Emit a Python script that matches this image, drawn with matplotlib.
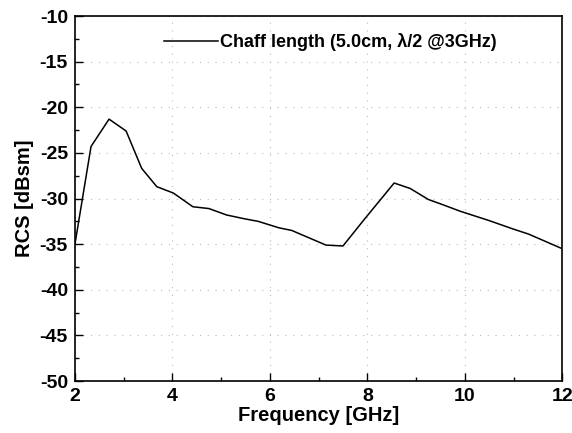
import matplotlib
matplotlib.use("Agg")
import matplotlib.pyplot as plt
from matplotlib.ticker import MultipleLocator

plt.rcParams['font.family'] = ['Liberation Sans', 'DejaVu Sans']
plt.rcParams['axes.unicode_minus'] = False

freq = [2.0, 2.33, 2.70, 3.05, 3.37, 3.68, 4.02, 4.42, 4.75, 5.11, 5.46, 5.76,
        6.18, 6.45, 7.15, 7.50, 7.92, 8.55, 8.88, 9.25, 9.56, 9.91, 10.49,
        10.97, 11.31, 12.0]
rcs = [-35.0, -24.3, -21.3, -22.6, -26.7, -28.7, -29.4, -30.9, -31.1, -31.8, -32.2, -32.5,
       -33.2, -33.5, -35.1, -35.2, -32.4, -28.3, -28.9, -30.1, -30.7, -31.4, -32.4,
       -33.3, -33.9, -35.5]
label = 'Chaff length (5.0cm, \u03bb/2 @3GHz)'

fig = plt.figure(figsize=(5.72, 4.33), dpi=100)
ax = fig.add_axes([0.131, 0.120, 0.852, 0.843])

ax.plot(freq, rcs, color='black', linewidth=1.1, label=label)

ax.set_xlim(2, 12)
ax.set_ylim(-50, -10)
ax.xaxis.set_major_locator(MultipleLocator(2))
ax.xaxis.set_minor_locator(MultipleLocator(1))
ax.yaxis.set_major_locator(MultipleLocator(5))
ax.yaxis.set_minor_locator(MultipleLocator(2.5))
ax.tick_params(which='both', direction='in', top=False, right=False)
ax.tick_params(which='major', length=6, width=1, pad=5)
ax.tick_params(which='minor', length=3, width=1)
ax.tick_params(labelsize=14)
for t in ax.get_xticklabels() + ax.get_yticklabels():
    t.set_fontweight('bold')
for s in ax.spines.values():
    s.set_linewidth(1.2)

ax.grid(True, which='major', color='#bbbbbb', linestyle=(0, (1, 6)), linewidth=0.8)

ax.set_xlabel('Frequency [GHz]', fontsize=14.5, fontweight='bold', labelpad=1)
ax.set_ylabel('RCS [dBsm]', fontsize=14.5, fontweight='bold', labelpad=4)

leg = ax.legend(loc='center left', bbox_to_anchor=(0.15, 0.929), frameon=False,
                handlelength=3.0, handletextpad=0.1, prop={'size': 13, 'weight': 'bold'})

fig.savefig('out.png', dpi=100)
